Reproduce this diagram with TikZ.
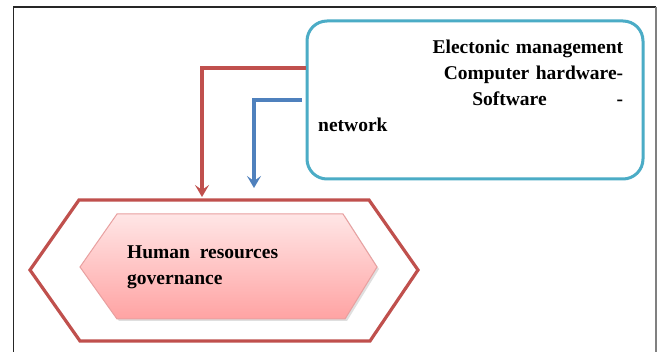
\documentclass[tikz,border=0pt]{standalone}
\usepackage{fontspec}
\setmainfont{Liberation Serif}
\usetikzlibrary{arrows.meta,shadows}
\definecolor{redline}{HTML}{C0504D}
\definecolor{blueline}{HTML}{4F81BD}
\definecolor{boxblue}{HTML}{4BACC6}
\definecolor{hextop}{HTML}{FFE6E6}
\definecolor{hexbot}{HTML}{FFA3A3}
\definecolor{hexedge}{HTML}{E8A0A0}
\begin{document}
\begin{tikzpicture}[x=1pt,y=-1pt,
  infobox/.style={draw=boxblue,line width=3pt,rounded corners=20pt,minimum width=336pt,minimum height=158pt,inner sep=0pt,fill=white},
  bigtext/.style={inner sep=0pt,font=\fontsize{19.5}{26}\selectfont\bfseries,align=left},
  redarrow/.style={draw=redline,line width=3.2pt,-{Stealth[length=12pt,width=14pt,inset=5pt]}},
  bluearrow/.style={draw=blueline,line width=3.2pt,-{Stealth[length=12pt,width=14pt,inset=5pt]}},
  hexouter/.style={draw=redline,line width=3.2pt},
  hexinner/.style={draw=hexedge,line width=1pt,top color=hextop,bottom color=hexbot,drop shadow={opacity=0.25,shadow xshift=2pt,shadow yshift=-2pt}}
]
\useasboundingbox (0,0) rectangle (659,352);
\fill[white] (0,0) rectangle (659,352);
% page frame
\draw[black!85,line width=1.4pt] (13.5,352) -- (13.5,7) -- (656,7);
\draw[gray,line width=1.8pt] (656,7) -- (656,352);
% info box
\node[infobox] (box) at (475,100) {};
\node[bigtext,text width=305pt,anchor=north west] (boxtxt) at (318,40)
  {\hspace*{\fill}Electonic management\\
   \hspace*{\fill}Computer hardware-\\
   \hspace*{\fill}Software\hspace{70pt}-\\
   network};
% hexagons
\draw[hexouter] (30,270) -- (79,200) -- (369,200) -- (418,270) -- (370,341) -- (80,341) -- cycle;
\path[hexinner] (80,267) -- (117,214) -- (343,214) -- (377,267) -- (345,319) -- (117,319) -- cycle;
\node[bigtext,anchor=north west] (hr) at (127,246) {Human\enspace resources\\governance};
% arrow ends
\coordinate (redEnd) at (202,197);
\coordinate (blueEnd) at (254,188);
\draw[redarrow] ([yshift=32pt]box.west) -| (redEnd);
\draw[bluearrow] ([xshift=-4pt]box.west) -| (blueEnd);
\end{tikzpicture}
\end{document}
